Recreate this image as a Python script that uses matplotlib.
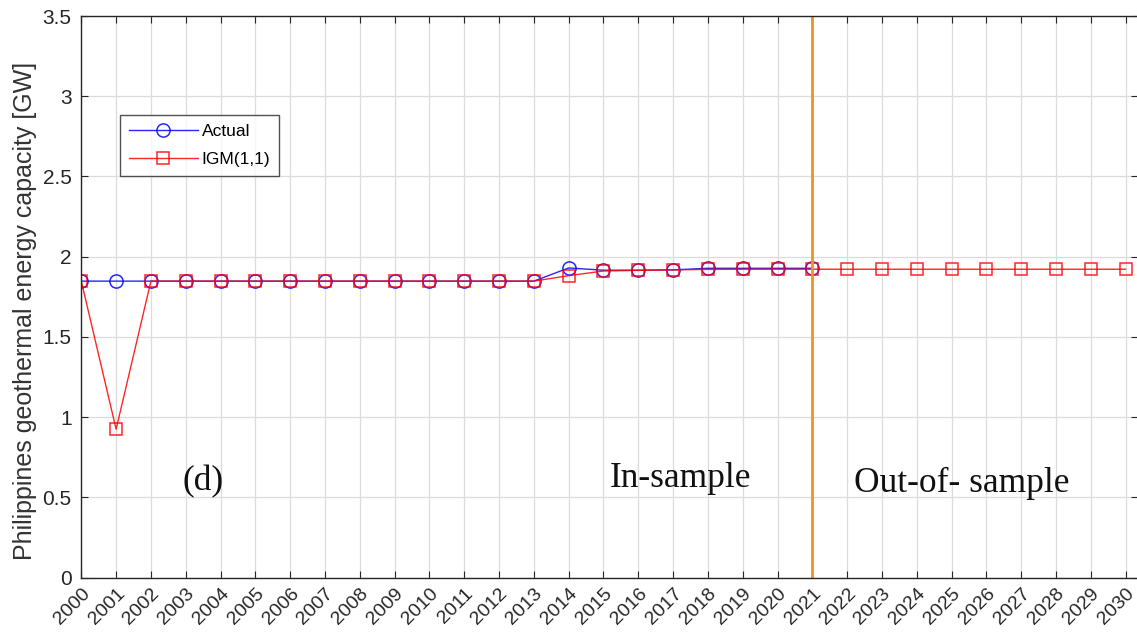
import numpy as np
import matplotlib
matplotlib.use('Agg')
import matplotlib.pyplot as plt

# years
years_actual = list(range(2000, 2022))
years_model = list(range(2000, 2031))
year_ticks = list(range(2000, 2031))

# Philippines geothermal capacity [GW]
actual = [1.848, 1.848, 1.848, 1.848, 1.848, 1.848, 1.848, 1.848, 1.848, 1.848,
          1.848, 1.848, 1.848, 1.848, 1.930, 1.916, 1.916, 1.918, 1.928, 1.928,
          1.928, 1.928]
igm = [1.848, 0.925, 1.848, 1.848, 1.848, 1.848, 1.848, 1.848, 1.848, 1.848,
       1.848, 1.848, 1.848, 1.848, 1.882, 1.911, 1.915, 1.918, 1.921, 1.922,
       1.922, 1.922, 1.922, 1.922, 1.922, 1.922, 1.922, 1.922, 1.922, 1.922,
       1.922]
split_year = 2021

W, H = 1137, 641
fig = plt.figure(figsize=(W / 100, H / 100), dpi=100)
x0, x1 = 81.3, 1137.5
y0, y1 = 16, 577.7
ax = fig.add_axes([x0 / W, 1 - y1 / H, (x1 - x0) / W, (y1 - y0) / H])

ax.plot(years_actual, actual, '-o', color='#0000ff', lw=1.0, ms=9.5, mfc='none',
        mew=1.1, label='Actual', alpha=0.85)
ax.plot(years_model, igm, '-s', color='#ff0000', lw=1.0, ms=9, mfc='none',
        mew=1.1, label='IGM(1,1)', alpha=0.85)
ax.axvline(split_year, color='#f39224', lw=2.0)

ax.set_xlim(2000, 2000 + (x1 - x0) / 34.81)
ax.set_ylim(0, 3.5)
ax.set_xticks(year_ticks)
ax.set_xticklabels([str(y) for y in year_ticks], rotation=45, ha='right',
                   rotation_mode='anchor', fontsize=14, color='#262626',
                   family='Liberation Sans')
ax.set_yticks(np.arange(0, 3.51, 0.5))
ax.set_yticklabels(['0', '0.5', '1', '1.5', '2', '2.5', '3', '3.5'],
                   fontsize=15, color='#262626', family='Liberation Sans')
ax.tick_params(axis='y', pad=7)
ax.tick_params(direction='in', top=True, right=True, length=5, width=0.8,
               color='#262626')
ax.tick_params(axis='x', pad=5)
ax.grid(True, color='#dcdcdc', lw=0.9)
ax.set_axisbelow(True)
for s in ax.spines.values():
    s.set_color('#262626')
    s.set_linewidth(1.0)
ax.set_ylabel('Philippines geothermal energy capacity [GW]', fontsize=18,
              color='#333333', family='Liberation Sans')
ax.yaxis.set_label_coords(-0.042, 0.475)

leg = ax.legend(loc='upper left', bbox_to_anchor=(0.0366, 0.824),
                borderaxespad=0, handlelength=4.0, frameon=True, fancybox=False,
                edgecolor='#262626', borderpad=0.5, labelspacing=0.75,
                handletextpad=0.2,
                prop={'family': 'Liberation Sans', 'size': 12.5})
leg.get_frame().set_linewidth(1.0)

serif = dict(family='Liberation Serif', fontsize=25.5, color='#111111',
             ha='center', va='center')
ax.text(2003.5, 0.60, '(d)', **serif)
ax.text(2017.2, 0.62, 'In-sample', **serif)
ax.text(2025.3, 0.59, 'Out-of- sample', **serif)

fig.savefig('out.png', dpi=100)
